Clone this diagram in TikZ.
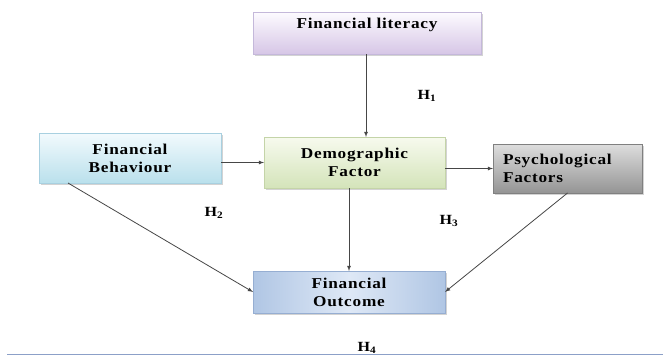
\documentclass[tikz,border=0pt]{standalone}
\usepackage{fontspec}
\setmainfont{Liberation Serif}
\newfontfamily\boxfont[LetterSpace=5,FakeStretch=1.15]{Liberation Serif}
\usetikzlibrary{positioning,shadows}

\definecolor{litTop}{RGB}{253,251,255}
\definecolor{litBot}{RGB}{214,198,230}
\definecolor{litLine}{RGB}{196,184,218}
\definecolor{behTop}{RGB}{242,250,253}
\definecolor{behBot}{RGB}{186,224,236}
\definecolor{behLine}{RGB}{168,208,224}
\definecolor{demTop}{RGB}{247,250,238}
\definecolor{demBot}{RGB}{212,228,186}
\definecolor{demLine}{RGB}{196,212,168}
\definecolor{psyTop}{RGB}{222,222,222}
\definecolor{psyBot}{RGB}{148,148,148}
\definecolor{psyLine}{RGB}{128,128,128}
\definecolor{outTop}{RGB}{222,232,246}
\definecolor{outBot}{RGB}{176,198,228}
\definecolor{outLine}{RGB}{150,174,210}
\definecolor{wire}{RGB}{70,70,70}
\definecolor{rule}{RGB}{140,160,200}

\begin{document}
\begin{tikzpicture}[>=latex,x=1pt,y=-1pt,
    box/.style={minimum width=#1,inner sep=0pt,outer sep=0pt,thin,
        font=\boxfont\bfseries\fontsize{15}{18}\selectfont,align=center,
        drop shadow={shadow xshift=1.5pt,shadow yshift=-1.5pt,opacity=0.35}},
    hyp/.style={font=\boxfont\bfseries\fontsize{14}{16}\selectfont,inner sep=0pt},
    link/.style={->,draw=wire,line width=0.8pt}]
	\useasboundingbox (0,0) rectangle (663,356);
	\node [box=228pt,minimum height=42pt,text height=10pt,text depth=19pt,draw=litLine,top color=litTop,bottom color=litBot] at (367,33) (lit) {Financial literacy};
	\node [box=182pt,minimum height=50pt,draw=behLine,top color=behTop,bottom color=behBot] at (130,158) (beh) {Financial\\Behaviour};
	\node [box=181pt,minimum height=51pt,draw=demLine,top color=demTop,bottom color=demBot] at (354.5,162.5) (dem) {Demographic\\Factor};
	\node [box=149pt,minimum height=49pt,draw=psyLine,top color=psyTop,bottom color=psyBot,align=left,text width=129pt] at (567.5,168.5) (psy) {Psychological\\Factors};
	\node [box=192pt,minimum height=42pt,draw=outLine,left color=outBot,right color=outBot,middle color=outTop] at (349,292) (out) {Financial\\Outcome};
	% connectors
	\draw [link] (lit.south -| 366,0) -- (dem.north -| 366,0);
	\draw [link] (beh.east |- dem.west) -- (dem.west);
	\draw [link] (dem.east |- psy.west) -- (psy.west);
	\draw [link] (dem.south -| out.north) -- (out.north);
	\draw [link] ([xshift=29pt]beh.south west) -- (out.west);
	\draw [link] (psy.south) -- (out.east);
	% hypotheses
	\node [hyp] at (427,96) (h1) {H\textsubscript{1}};
	\node [hyp] at (214,213) (h2) {H\textsubscript{2}};
	\node [hyp] at (449,221) (h3) {H\textsubscript{3}};
	\node [hyp] at (367,348) (h4) {H\textsubscript{4}};
	\draw [rule,line width=1pt] (7,354.5) -- (663,354.5);
\end{tikzpicture}
\end{document}
